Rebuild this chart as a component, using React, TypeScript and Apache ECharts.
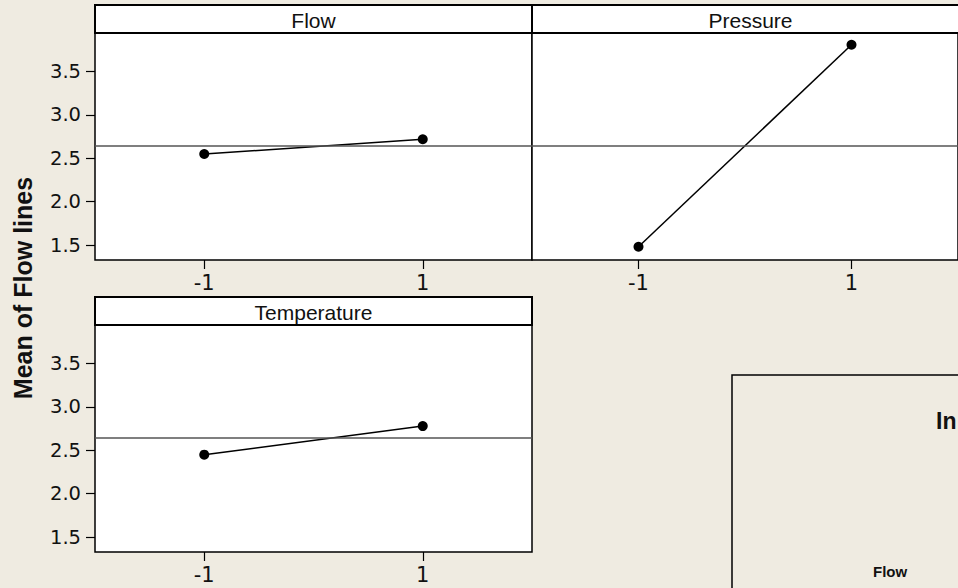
import React, { useEffect, useRef } from "react";
import * as echarts from "echarts";

// Factor levels (coded)
const levels: number[] = [-1, 1];
// Means of "Flow lines" at each level
const flowMeans: number[] = [2.55, 2.72];
const pressureMeans: number[] = [1.48, 3.81];
const temperatureMeans: number[] = [2.45, 2.78];
const grandMean = 2.64;

const panelTitles: string[] = ["Flow", "Pressure", "Temperature"];
const yTicks: number[] = [1.5, 2.0, 2.5, 3.0, 3.5];
const xTicks: number[] = [-1, 1];

const BG = "#EFEBE1";

export default function App() {
  const ref = useRef<HTMLDivElement>(null);

  useEffect(() => {
    if (!ref.current) return;
    const chart = echarts.init(ref.current, undefined, { renderer: "svg" });

    const grids = [
      { left: 95, top: 33, width: 437, height: 227 },
      { left: 532, top: 33, width: 437, height: 227 },
      { left: 95, top: 325, width: 437, height: 227 },
    ];
    const strips = [
      { x: 95, y: 5, w: 437, h: 28 },
      { x: 532, y: 5, w: 437, h: 28 },
      { x: 95, y: 297, w: 437, h: 28 },
    ];
    const allMeans = [flowMeans, pressureMeans, temperatureMeans];

    const option: any = {
      animation: false,
      backgroundColor: BG,
      grid: grids.map((g) => ({
        ...g,
        show: true,
        backgroundColor: "#fff",
        borderColor: "#000",
        borderWidth: 1.5,
        containLabel: false,
      })),
      xAxis: grids.map((_, i) => ({
        type: "value",
        gridIndex: i,
        min: -2,
        max: 2,
        position: "bottom",
        axisLine: { show: false, onZero: false },
        splitLine: { show: false },
        axisTick: {
          show: true,
          length: 9,
          customValues: xTicks,
          lineStyle: { color: "#000", width: 1.2 },
        },
        axisLabel: {
          show: true,
          customValues: xTicks,
          margin: 12,
          fontFamily: "DejaVu Sans",
          fontSize: 21,
          color: "#111",
          formatter: (v: number) => String(v),
        },
      })),
      yAxis: grids.map((_, i) => ({
        type: "value",
        gridIndex: i,
        min: 1.327,
        max: 3.946,
        position: "left",
        axisLine: { show: false, onZero: false },
        splitLine: { show: false },
        axisTick: {
          show: i !== 1,
          length: 9,
          customValues: yTicks,
          lineStyle: { color: "#000", width: 1.2 },
        },
        axisLabel: {
          show: i !== 1,
          customValues: yTicks,
          margin: 14,
          fontFamily: "DejaVu Sans",
          fontSize: 19.5,
          color: "#111",
          formatter: (v: number) => v.toFixed(1),
        },
      })),
      series: allMeans.map((means, i) => ({
        type: "line",
        xAxisIndex: i,
        yAxisIndex: i,
        data: levels.map((lv, k) => [lv, means[k]]),
        symbol: "circle",
        symbolSize: 10,
        lineStyle: { color: "#000", width: 1.5 },
        itemStyle: { color: "#000" },
        markLine: {
          silent: true,
          symbol: "none",
          label: { show: false },
          lineStyle: { color: "#555", width: 1.5, type: "solid" },
          data: [{ yAxis: grandMean }],
        },
      })),
      graphic: [
        ...strips.map((s, i) => ({
          type: "group",
          children: [
            {
              type: "rect",
              shape: { x: s.x, y: s.y, width: s.w, height: s.h },
              style: { fill: "#fff", stroke: "#000", lineWidth: 2 },
            },
            {
              type: "text",
              x: s.x + s.w / 2,
              y: s.y + s.h / 2 + 1,
              style: {
                text: panelTitles[i],
                fontFamily: "Liberation Sans",
                fontSize: 21,
                fill: "#111",
                align: "center",
                verticalAlign: "middle",
              },
            },
          ],
        })),
        {
          type: "text",
          x: 23,
          y: 288,
          rotation: Math.PI / 2,
          style: {
            text: "Mean of Flow lines",
            fontFamily: "Liberation Sans",
            fontWeight: "bold",
            fontSize: 25,
            fill: "#111",
            align: "center",
            verticalAlign: "middle",
          },
        },
        {
          type: "rect",
          shape: { x: 732, y: 375, width: 300, height: 300 },
          style: { fill: "none", stroke: "#000", lineWidth: 1.5 },
        },
        {
          type: "text",
          x: 936,
          y: 421,
          style: {
            text: "In",
            fontFamily: "Liberation Sans",
            fontWeight: "bold",
            fontSize: 23,
            fill: "#111",
            align: "left",
            verticalAlign: "middle",
          },
        },
        {
          type: "text",
          x: 873,
          y: 571,
          style: {
            text: "Flow",
            fontFamily: "Liberation Sans",
            fontWeight: "bold",
            fontSize: 15,
            fill: "#111",
            align: "left",
            verticalAlign: "middle",
          },
        },
      ],
    };

    chart.setOption(option);
    return () => chart.dispose();
  }, []);

  return (
    <div
      ref={ref}
      style={{ position: "fixed", left: 0, top: 0, width: 958, height: 588 }}
    />
  );
}
